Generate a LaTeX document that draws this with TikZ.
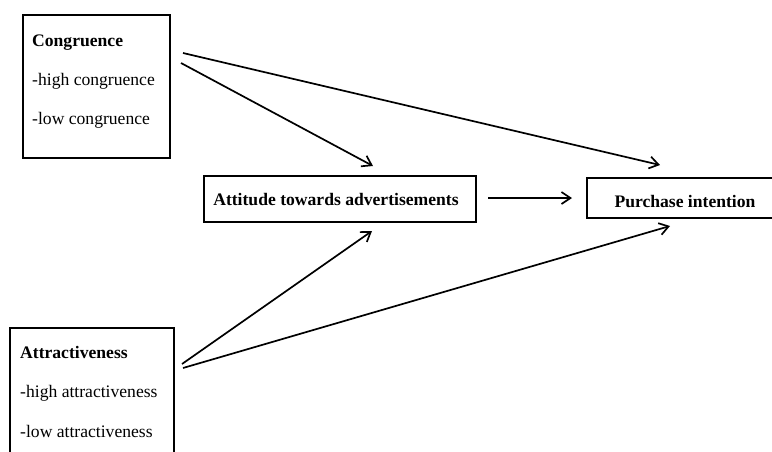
\documentclass[tikz,border=0pt]{standalone}
\usepackage{fontspec}
\setmainfont{Liberation Serif}
\usetikzlibrary{arrows.meta}
\begin{document}
\begin{tikzpicture}[x=1pt,y=-1pt,
  box/.style={draw,line width=1.5pt,anchor=north west,inner sep=0pt},
  lbl/.style={anchor=base west,inner sep=0pt,font=\fontsize{17.6}{20}\selectfont},
  blbl/.style={lbl,font=\fontsize{17.6}{20}\selectfont\bfseries},
  conn/.style={line width=1.7pt,-{Straight Barb[length=9pt,width=12pt,line width=1.7pt]}}]
\useasboundingbox (0,0) rectangle (772,451);
\clip (0,0) rectangle (772,451);
% boxes
\node[box,minimum width=147pt,minimum height=143pt] (cong) at (22,14) {};
\node[box,minimum width=164pt,minimum height=140pt] (attr) at (9,327) {};
\node[box,minimum width=272pt,minimum height=46pt] (att) at (203,175) {};
\node[box,minimum width=198pt,minimum height=40pt] (pur) at (586,177) {};
% texts
\node[blbl] (t1) at (32,46) {Congruence};
\node[lbl] (t2) at (32,85) {-high congruence};
\node[lbl] (t3) at (32,124) {-low congruence};
\node[blbl] (t4) at (20,358) {Attractiveness};
\node[lbl] (t5) at (20,397) {-high attractiveness};
\node[lbl] (t6) at (20,437) {-low attractiveness};
\node[blbl,anchor=base] (t7) at (336,205) {Attitude towards advertisements};
\node[blbl,anchor=base] (t8) at (685,207) {Purchase intention};
% connector ends
\coordinate (c1s) at (183,53);
\coordinate (c1e) at (660,165);
\coordinate (c2s) at (181,63);
\coordinate (c2e) at (373,166);
\coordinate (ms) at (488,198);
\coordinate (me) at (572,198);
\coordinate (a1s) at (182,364);
\coordinate (a1e) at (372,231);
\coordinate (a2s) at (183,368);
\coordinate (a2e) at (670,226);
\draw[conn] (c1s) -- (c1e);
\draw[conn] (c2s) -- (c2e);
\draw[conn] (ms) -- (me);
\draw[conn] (a1s) -- (a1e);
\draw[conn] (a2s) -- (a2e);
\end{tikzpicture}
\end{document}
